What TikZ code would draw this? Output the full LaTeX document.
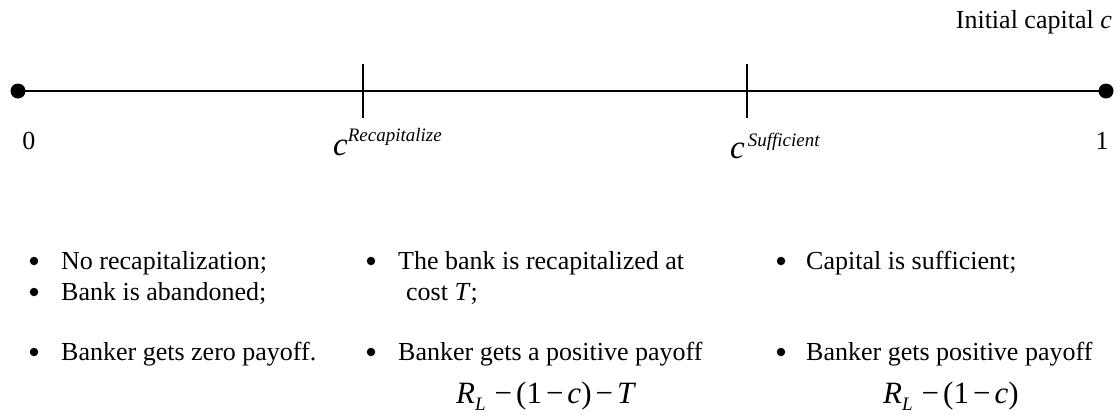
\documentclass[tikz,border=0pt]{standalone}
\usepackage{fontspec}
\setmainfont{Liberation Serif}
\usetikzlibrary{positioning}

\begin{document}
\begin{tikzpicture}[x=1pt,y=-1pt,
txt/.style={anchor=base west,inner sep=0pt,font=\fontsize{26}{31}\selectfont},
bul/.style={circle,fill,inner sep=0pt,minimum size=8.5pt},
lbl/.style={anchor=base,inner sep=0pt,font=\fontsize{26}{31}\selectfont},
frm/.style={anchor=base west,inner sep=0pt,font=\fontsize{31}{36}\selectfont},
enddot/.style={circle,fill,inner sep=0pt,minimum size=15pt},
axisline/.style={line width=2.4pt},
tickline/.style={line width=1.6pt}]
\useasboundingbox (0,0) rectangle (1117,415);

% the axis
\node[enddot] (zero) at (18,91) {};
\node[enddot] (one) at (1106,91) {};
\draw[axisline] (zero.center) -- (one.center);
\coordinate (rtop) at (363,64);
\coordinate (rbot) at (363,118);
\coordinate (stop) at (747,64);
\coordinate (sbot) at (747,118);
\draw[tickline] (rtop) -- (rbot);
\draw[tickline] (stop) -- (sbot);

\node[anchor=base east,inner sep=0pt,font=\fontsize{26}{31}\selectfont] (title) at (1112,28) {Initial capital \textit{c}};
\node[lbl] (lzero) at (29,149) {0};
\node[lbl] (lone) at (1102,149) {1};
\node[anchor=base west,inner sep=0pt] (lrecap) at (333,155)
  {\fontsize{33}{33}\selectfont\textit{c}\raisebox{14pt}{\fontsize{19}{19}\selectfont\textit{Recapitalize}}};
\node[anchor=base west,inner sep=0pt] (lsuff) at (730,158)
  {\fontsize{33}{33}\selectfont\textit{c}\hspace{3pt}\raisebox{12pt}{\fontsize{19}{19}\selectfont\textit{Sufficient}}};

% left column
\node[bul] (b11) at (34,261) {};
\node[txt] (t11) at (61,269) {No recapitalization;};
\node[bul] (b12) at (34,292) {};
\node[txt] (t12) at (61,300) {Bank is abandoned;};
\node[bul] (b13) at (34,352) {};
\node[txt] (t13) at (61,360) {Banker gets zero payoff.};

% middle column
\node[bul] (b21) at (371,261) {};
\node[txt] (t21) at (398,269) {The bank is recapitalized at};
\node[txt] (t21b) at (406,300) {cost \textit{T};};
\node[bul] (b22) at (371,352) {};
\node[txt] (t22) at (398,360) {Banker gets a positive payoff};
\node[frm] (f2) at (456,403)
  {\textit{R}\raisebox{-7pt}{\fontsize{19}{19}\selectfont\textit{L}}\hspace{9pt}−\hspace{4pt}(1\hspace{4pt}−\hspace{4pt}\textit{c})\hspace{4pt}−\hspace{4pt}\textit{T}};

% right column
\node[bul] (b31) at (781,261) {};
\node[txt] (t31) at (806,269) {Capital is sufficient;};
\node[bul] (b32) at (781,352) {};
\node[txt] (t32) at (806,360) {Banker gets positive payoff};
\node[frm] (f3) at (883,403)
  {\textit{R}\raisebox{-7pt}{\fontsize{19}{19}\selectfont\textit{L}}\hspace{9pt}−\hspace{4pt}(1\hspace{4pt}−\hspace{4pt}\textit{c})};
\end{tikzpicture}
\end{document}
